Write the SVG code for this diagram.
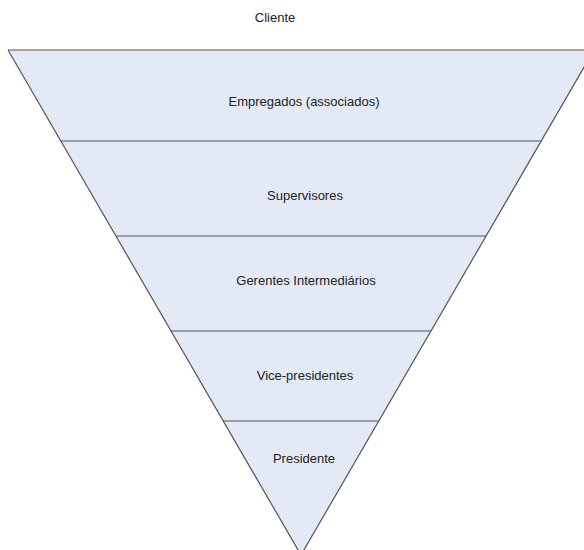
<svg xmlns="http://www.w3.org/2000/svg" width="584" height="550" viewBox="0 0 584 550">
<style>
.band{fill:#e3eaf5;stroke:none}
.edge{fill:none;stroke:#555;stroke-width:1.2}
.lbl{font-family:"Liberation Sans",Arial,sans-serif;font-size:13px;fill:#222;text-anchor:middle}
</style>
<rect width="584" height="550" fill="#fff"/>
<text class="lbl" x="275" y="22">Cliente</text>
<g id="pyramid">
<polygon class="band" points="8,50 594,50 301,555"/>
</g>
<g id="connectors">
<line class="edge" x1="8" y1="50" x2="594" y2="50"/>
<line class="edge" x1="8" y1="50" x2="301" y2="555"/>
<line class="edge" x1="594" y1="50" x2="301" y2="555"/>
<line class="edge" x1="61" y1="141" x2="541" y2="141"/>
<line class="edge" x1="116" y1="236" x2="486" y2="236"/>
<line class="edge" x1="171" y1="331" x2="431" y2="331"/>
<line class="edge" x1="223" y1="421" x2="379" y2="421"/>
</g>
<g id="n1"><text class="lbl" x="304" y="106">Empregados (associados)</text></g>
<g id="n2"><text class="lbl" x="305" y="200">Supervisores</text></g>
<g id="n3"><text class="lbl" x="306" y="285">Gerentes Intermediários</text></g>
<g id="n4"><text class="lbl" x="305" y="380">Vice-presidentes</text></g>
<g id="n5"><text class="lbl" x="304" y="463">Presidente</text></g>
</svg>
